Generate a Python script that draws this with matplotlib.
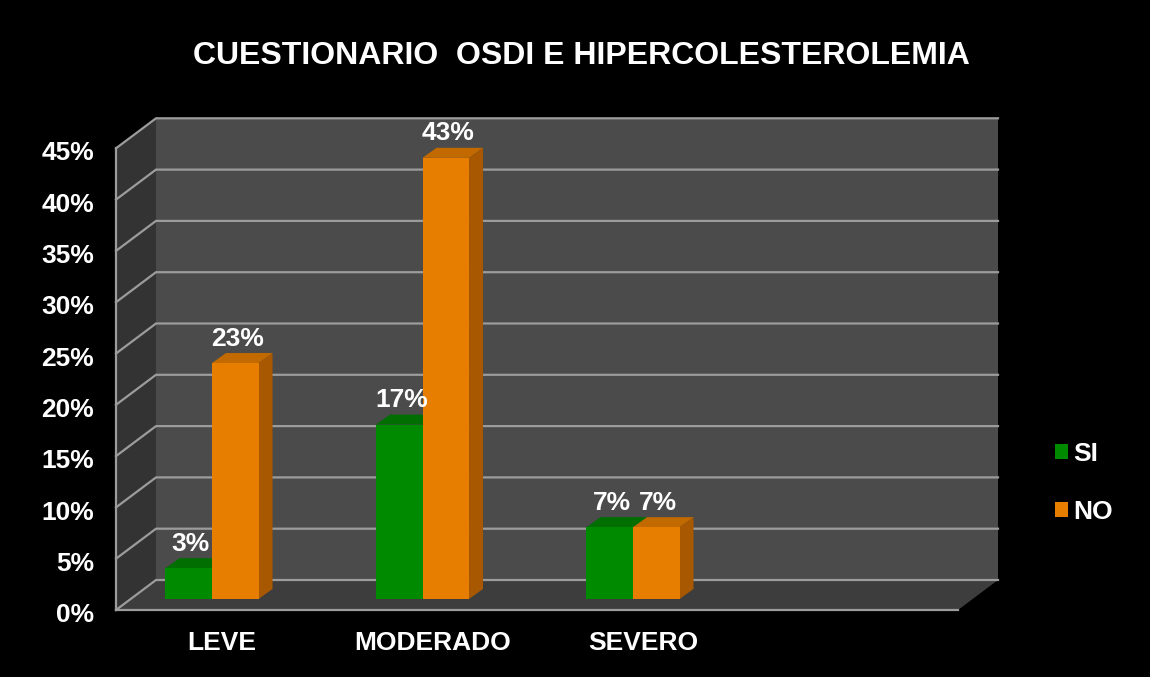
import matplotlib.pyplot as plt
from matplotlib.patches import Polygon

categorias = ["LEVE", "MODERADO", "SEVERO"]
si = [3, 17, 7]
no = [23, 43, 7]
ticks = [0, 5, 10, 15, 20, 25, 30, 35, 40, 45]
titulo = "CUESTIONARIO  OSDI E HIPERCOLESTEROLEMIA"

plt.rcParams["font.family"] = ["Liberation Sans", "DejaVu Sans"]
plt.rcParams["font.weight"] = "bold"

# pixel layout of the fake 3D box (image is 1150x677)
W, H = 1150, 677
X0, Y0 = 212, 599          # pixel of category 0 / 0% on the bar plane
SX, SY = 210.5, 10.26      # px per category, px per percent
FS = 19

fig = plt.figure(figsize=(W / 100, H / 100), dpi=100, facecolor="black")
ax = fig.add_axes([0, 0, 1, 1])
ax.set_xlim((0 - X0) / SX, (W - X0) / SX)
ax.set_ylim((Y0 - H) / SY, Y0 / SY)
ax.set_axis_off()

# walls, in data units
xf0, xf1 = (116 - X0) / SX, (958 - X0) / SX
yf = (Y0 - 610) / SY
ddx, ddy = 40 / SX, 30 / SY
xb0, xb1, yb = xf0 + ddx, xf1 + ddx, yf + ddy
top = ticks[-1]

grid_c = "#9c9c9c"
ax.add_patch(Polygon([(xb0, yb), (xb1, yb), (xb1, yb + top), (xb0, yb + top)],
                     closed=True, fc="#4b4b4b", ec="none", zorder=1))
ax.add_patch(Polygon([(xf0, yf), (xb0, yb), (xb0, yb + top), (xf0, yf + top)],
                     closed=True, fc="#333333", ec="none", zorder=1))
ax.add_patch(Polygon([(xf0, yf), (xf1, yf), (xb1, yb), (xb0, yb)],
                     closed=True, fc="#3d3d3d", ec="none", zorder=1))
for t in ticks:
    ax.plot([xf0, xb0, xb1], [yf + t, yb + t, yb + t], color=grid_c, lw=1.6, zorder=2,
            solid_joinstyle="miter")
    ax.text(xf0 - 0.105, yf + t - 0.5, f"{t}%", color="white", fontsize=FS,
            ha="right", va="center", fontweight="bold")
ax.plot([xf0, xf0], [yf, yf + top], color=grid_c, lw=1.6, zorder=2)
ax.plot([xf0, xf1], [yf, yf], color=grid_c, lw=1.6, zorder=2)

# bars
w = 0.221
bdx, bdy = 14 / SX, 10 / SY
series = [
    ("SI", si, -w / 2, "#008a00", "#005c00", "#006e00"),
    ("NO", no, w / 2, "#e87e00", "#a85800", "#c26a00"),
]
xs = list(range(len(categorias)))
handles = []
for name, vals, off, c_front, c_side, c_top in series:
    for x, v in zip(xs, vals):
        x0, x1 = x + off - w / 2, x + off + w / 2
        ax.add_patch(Polygon([(x1, 0), (x1 + bdx, bdy), (x1 + bdx, v + bdy), (x1, v)],
                             closed=True, fc=c_side, ec="none", zorder=3))
        ax.add_patch(Polygon([(x0, v), (x0 + bdx, v + bdy), (x1 + bdx, v + bdy), (x1, v)],
                             closed=True, fc=c_top, ec="none", zorder=3))
    b = ax.bar([x + off for x in xs], vals, width=w, color=c_front, zorder=4, label=name)
    handles.append(b)
    for x, v in zip(xs, vals):
        ax.text(x + off + 0.01, v + 1.7, f"{v}%", color="white", fontsize=FS,
                ha="center", va="baseline", fontweight="bold", zorder=6)

for x, c in zip(xs, categorias):
    ax.text(x + 0.048, (Y0 - 643) / SY, c, color="white", fontsize=FS,
            ha="center", va="center", fontweight="bold")

fig.text(581 / W, 1 - 56 / H, titulo, color="white", fontsize=23,
         ha="center", va="center", fontweight="bold")

leg = fig.legend(handles=handles, loc="center left", bbox_to_anchor=(1055 / W, 1 - 483 / H),
                 frameon=False, fontsize=FS, handlelength=0.5, handleheight=0.5,
                 handletextpad=0.2, labelspacing=1.3, borderpad=0, borderaxespad=0)
for txt in leg.get_texts():
    txt.set_color("white")

fig.savefig("out.png", dpi=100, facecolor="black")
